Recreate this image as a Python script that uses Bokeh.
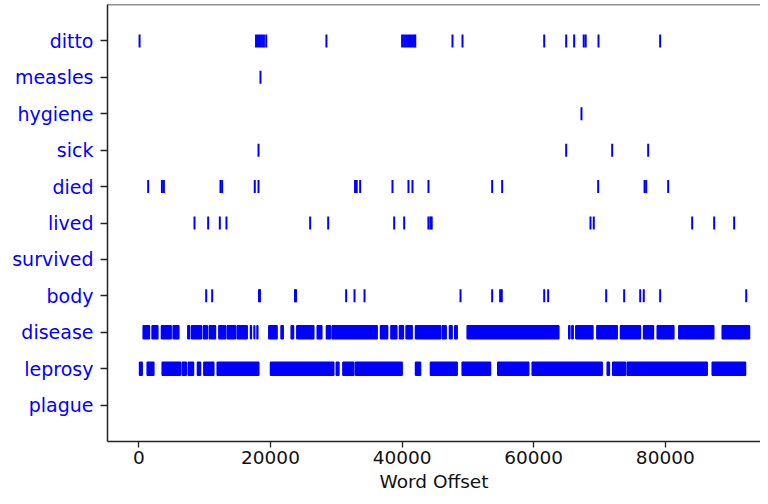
from bokeh.plotting import figure
from bokeh.models import FixedTicker, Range1d, Span, ColumnDataSource
from bokeh.embed import file_html
from bokeh.resources import INLINE

words = ["plague", "leprosy", "disease", "body", "survived", "lived",
         "died", "sick", "hygiene", "measles", "ditto"]
x_ticks = [0, 20000, 40000, 60000, 80000]
x_title = "Word Offset"

# word offsets of single occurrences
ditto = [100, 17800, 18100, 18400, 18700, 19000, 19350, 28500,
         40000, 40300, 40600, 40900, 41200, 41500, 41800, 42000,
         47660, 49180, 61600, 64940, 66150, 67600, 67900, 69850, 79220]
measles = [18480]
hygiene = [67260]
sick = [18180, 64940, 71930, 77400]
died = [1410, 3500, 3800, 12400, 12650, 17610, 18180, 32850, 33100, 33630,
        38540, 40970, 41580, 44010, 53690, 55210, 69800, 76850, 77100, 80440]
lived = [8450, 10530, 12300, 13310, 26030, 28770, 38800, 40320,
         44000, 44300, 44500, 68630, 69130, 84090, 87430, 90470]
survived = []
body = [10230, 11140, 18250, 18400, 23720, 23880, 31500, 32770, 34290,
        48880, 53690, 54900, 55150, 61600, 62200, 71020, 73750, 76190,
        76730, 79220, 92300]
plague = []

# dense words: runs of closely packed occurrences (start, end offsets)
disease_start = [650, 2000, 3430, 5200, 7430, 8000, 9800, 10700, 12150, 13420,
                 14940, 16960, 17500, 17950, 19740, 21600, 23140, 24000, 27100,
                 28500, 29370, 36720, 38300, 39600, 40600, 42040, 46100, 47200,
                 48000, 49890, 65330, 65800, 66400, 69600, 73190, 76700, 78770,
                 82050, 88650]
disease_end = [1600, 2880, 4900, 6070, 7700, 9500, 10400, 11640, 13160, 14680,
               16460, 17100, 17600, 18070, 21000, 21930, 23500, 26580, 27800,
               29120, 36210, 37800, 39200, 40200, 41530, 45840, 46700, 47600,
               48370, 63820, 65500, 66000, 69000, 72690, 76220, 78200, 81300,
               87370, 92800]
leprosy_start = [100, 1260, 3540, 6580, 7500, 8900, 9870, 11900, 20000, 30000,
                 31000, 32920, 42040, 44310, 49130, 54540, 59770, 71170, 72000,
                 74210, 87130]
leprosy_end = [500, 2270, 6320, 7200, 8300, 9360, 11380, 18220, 29620, 30400,
               32660, 40010, 42800, 48370, 53430, 59250, 70410, 71500, 73950,
               86370, 92190]

singles = {"ditto": ditto, "measles": measles, "hygiene": hygiene, "sick": sick,
           "died": died, "lived": lived, "survived": survived, "body": body,
           "plague": plague}
runs = {"disease": (disease_start, disease_end),
        "leprosy": (leprosy_start, leprosy_end)}

BLUE = "#0000ff"
HALF = 0.178  # half marker height in row units

xs, ys = [], []
for w, offs in singles.items():
    for o in offs:
        xs.append(o)
        ys.append(words.index(w))
src = ColumnDataSource(dict(x=xs, y0=[y - HALF for y in ys], y1=[y + HALF for y in ys]))

qs, qe, qb, qt = [], [], [], []
for w, (s, e) in runs.items():
    y = words.index(w)
    for a, b in zip(s, e):
        qs.append(a); qe.append(b); qb.append(y - HALF); qt.append(y + HALF)
qsrc = ColumnDataSource(dict(left=qs, right=qe, bottom=qb, top=qt))

X0, X1 = -4772, 94468
YTOP = 11
p = figure(width=760, height=496, output_backend="svg", toolbar_location=None,
           x_range=Range1d(X0, X1), y_range=Range1d(-1, YTOP),
           min_border_left=107, min_border_right=0, min_border_top=4,
           min_border_bottom=55)
p.outline_line_color = None
p.grid.visible = False
p.background_fill_color = "white"

p.segment(x0="x", y0="y0", x1="x", y1="y1", source=src, line_color=BLUE, line_width=2)
p.quad(left="left", right="right", bottom="bottom", top="top", source=qsrc,
       fill_color=BLUE, line_color=BLUE, line_width=1.5)

p.add_layout(Span(location=YTOP, dimension="width", line_color="#222222", line_width=1.5))

FS = "19px"
p.yaxis.ticker = FixedTicker(ticks=list(range(len(words))))
p.yaxis.major_label_overrides = {i: w for i, w in enumerate(words)}
p.yaxis.major_label_text_color = BLUE
p.yaxis.major_label_text_font = "DejaVu Sans"
p.yaxis.major_label_text_font_size = FS
p.yaxis.major_label_standoff = 7
p.yaxis.major_tick_out = 7
p.yaxis.major_tick_in = 0
p.yaxis.minor_tick_line_color = None
p.yaxis.axis_line_color = "#222222"
p.yaxis.axis_line_width = 1.5
p.yaxis.major_tick_line_color = "#222222"
p.yaxis.major_tick_line_width = 1.3

p.xaxis.ticker = FixedTicker(ticks=x_ticks)
p.xaxis.major_label_text_color = "#111111"
p.xaxis.major_label_text_font = "DejaVu Sans"
p.xaxis.major_label_text_font_size = "18.5px"
p.xaxis.major_label_standoff = 3
p.xaxis.major_tick_out = 6
p.xaxis.major_tick_in = 0
p.xaxis.minor_tick_line_color = None
p.xaxis.axis_line_color = "#222222"
p.xaxis.axis_line_width = 1.5
p.xaxis.major_tick_line_color = "#222222"
p.xaxis.major_tick_line_width = 1.3
p.xaxis.axis_label = x_title
p.xaxis.axis_label_text_font = "DejaVu Sans"
p.xaxis.axis_label_text_font_size = "18.5px"
p.xaxis.axis_label_text_font_style = "normal"
p.xaxis.axis_label_text_color = "#111111"
p.xaxis.axis_label_standoff = 4

open("out.html", "w").write(file_html(p, INLINE))
